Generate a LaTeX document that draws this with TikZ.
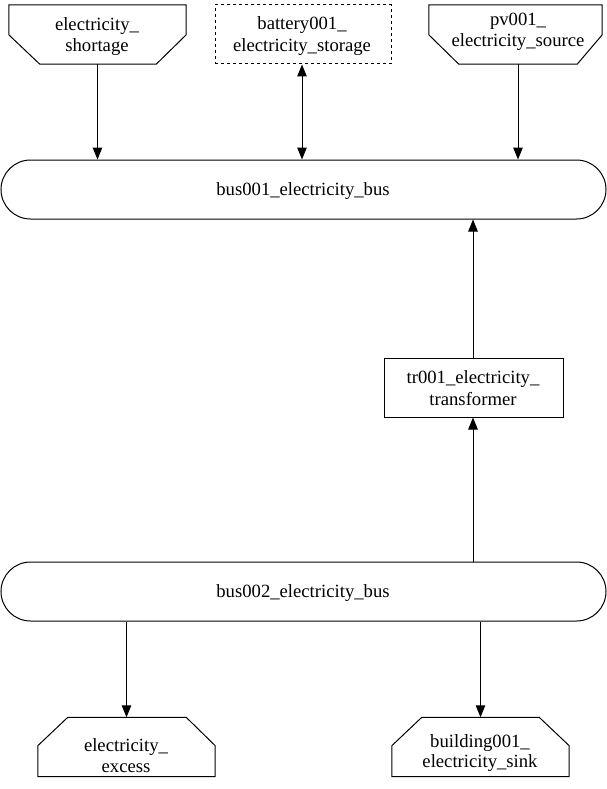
\documentclass[tikz,border=0pt]{standalone}
\usepackage{fontspec}
\setmainfont{Liberation Serif}
\usetikzlibrary{arrows.meta,calc}
\begin{document}
\begin{tikzpicture}[x=1pt,y=-1pt,
  txt/.style={font=\fontsize{18.67}{22}\selectfont, inner sep=0pt, anchor=base},
  box/.style={draw=none, inner sep=0pt, minimum height=59pt},
  rectbox/.style={draw, line width=1pt, inner sep=0pt, minimum height=59pt},
  busbox/.style={draw, line width=1pt, inner sep=0pt, rounded corners=29.5pt, minimum width=605pt, minimum height=59pt},
  shp/.style={draw, line width=1pt},
  arr/.style={line width=1pt, -{Triangle[length=12pt,width=9.5pt]}},
  biarr/.style={line width=1pt, {Triangle[length=12pt,width=9.5pt]}-{Triangle[length=12pt,width=9.5pt]}}
]
\useasboundingbox (0,0) rectangle (607,789);
% top nodes
\node[box, minimum width=177pt] (short) at (97.5,34.5) {};
\draw[shp] (short.north west) -- (short.north east) -- ($(short.north east)+(0,30)$)
  -- ($(short.south east)+(-30,0)$) -- ($(short.south west)+(31,0)$) -- ($(short.north west)+(0,30)$) -- cycle;
\node[txt] (short1) at (97,31) {electricity\_};
\node[txt] (short2) at (97,52) {shortage};
\node[rectbox, dashed, minimum width=176pt] (bat) at (303,34.5) {};
\node[txt] (bat1) at (302,30) {battery001\_};
\node[txt] (bat2) at (302,52) {electricity\_storage};
\node[box, minimum width=173pt] (pv) at (515.5,34.5) {};
\draw[shp] (pv.north west) -- (pv.north east) -- ($(pv.north east)+(0,30)$)
  -- ($(pv.south east)+(-25,0)$) -- ($(pv.south west)+(30,0)$) -- ($(pv.north west)+(0,30)$) -- cycle;
\node[txt] (pv1) at (518,26) {pv001\_};
\node[txt] (pv2) at (518,47) {electricity\_source};
% buses
\node[busbox] (bus1) at (303.5,189.5) {};
\node[txt] (bus1t) at (303,195) {bus001\_electricity\_bus};
\node[busbox] (bus2) at (303.5,591.5) {};
\node[txt] (bus2t) at (303,597) {bus002\_electricity\_bus};
% transformer
\node[rectbox, minimum width=179pt] (tr) at (473.5,387.5) {};
\node[txt] (tr1) at (473,383) {tr001\_electricity\_};
\node[txt] (tr2) at (473,405) {transformer};
% bottom nodes
\node[box, minimum width=177pt] (exc) at (126.5,747) {};
\draw[shp] (exc.south west) -- (exc.south east) -- ($(exc.south east)+(0,-31)$)
  -- ($(exc.north east)+(-29,0)$) -- ($(exc.north west)+(30,0)$) -- ($(exc.south west)+(0,-31)$) -- cycle;
\node[txt] (exc1) at (126,751) {electricity\_};
\node[txt] (exc2) at (126,772) {excess};
\node[box, minimum width=177pt] (bld) at (480.5,747) {};
\draw[shp] (bld.south west) -- (bld.south east) -- ($(bld.south east)+(0,-31)$)
  -- ($(bld.north east)+(-30,0)$) -- ($(bld.north west)+(30,0)$) -- ($(bld.south west)+(0,-31)$) -- cycle;
\node[txt] (bld1) at (480,747) {building001\_};
\node[txt] (bld2) at (480,767) {electricity\_sink};
% connectors
\draw[arr] (short.south) -- (short.south |- bus1.north);
\draw[biarr] ([xshift=-1pt]bat.south) -- ([xshift=-1pt]bat.south |- bus1.north);
\draw[arr] ([xshift=2.5pt]pv.south) -- ([xshift=2.5pt]pv.south |- bus1.north);
\draw[arr] ([xshift=-0.5pt]tr.north) -- ([xshift=-0.5pt]tr.north |- bus1.south);
\draw[arr] ([xshift=-0.5pt]tr.south |- bus2.north) -- ([xshift=-0.5pt]tr.south);
\draw[arr] (exc.north |- bus2.south) -- (exc.north);
\draw[arr] (bld.north |- bus2.south) -- (bld.north);
\end{tikzpicture}
\end{document}
